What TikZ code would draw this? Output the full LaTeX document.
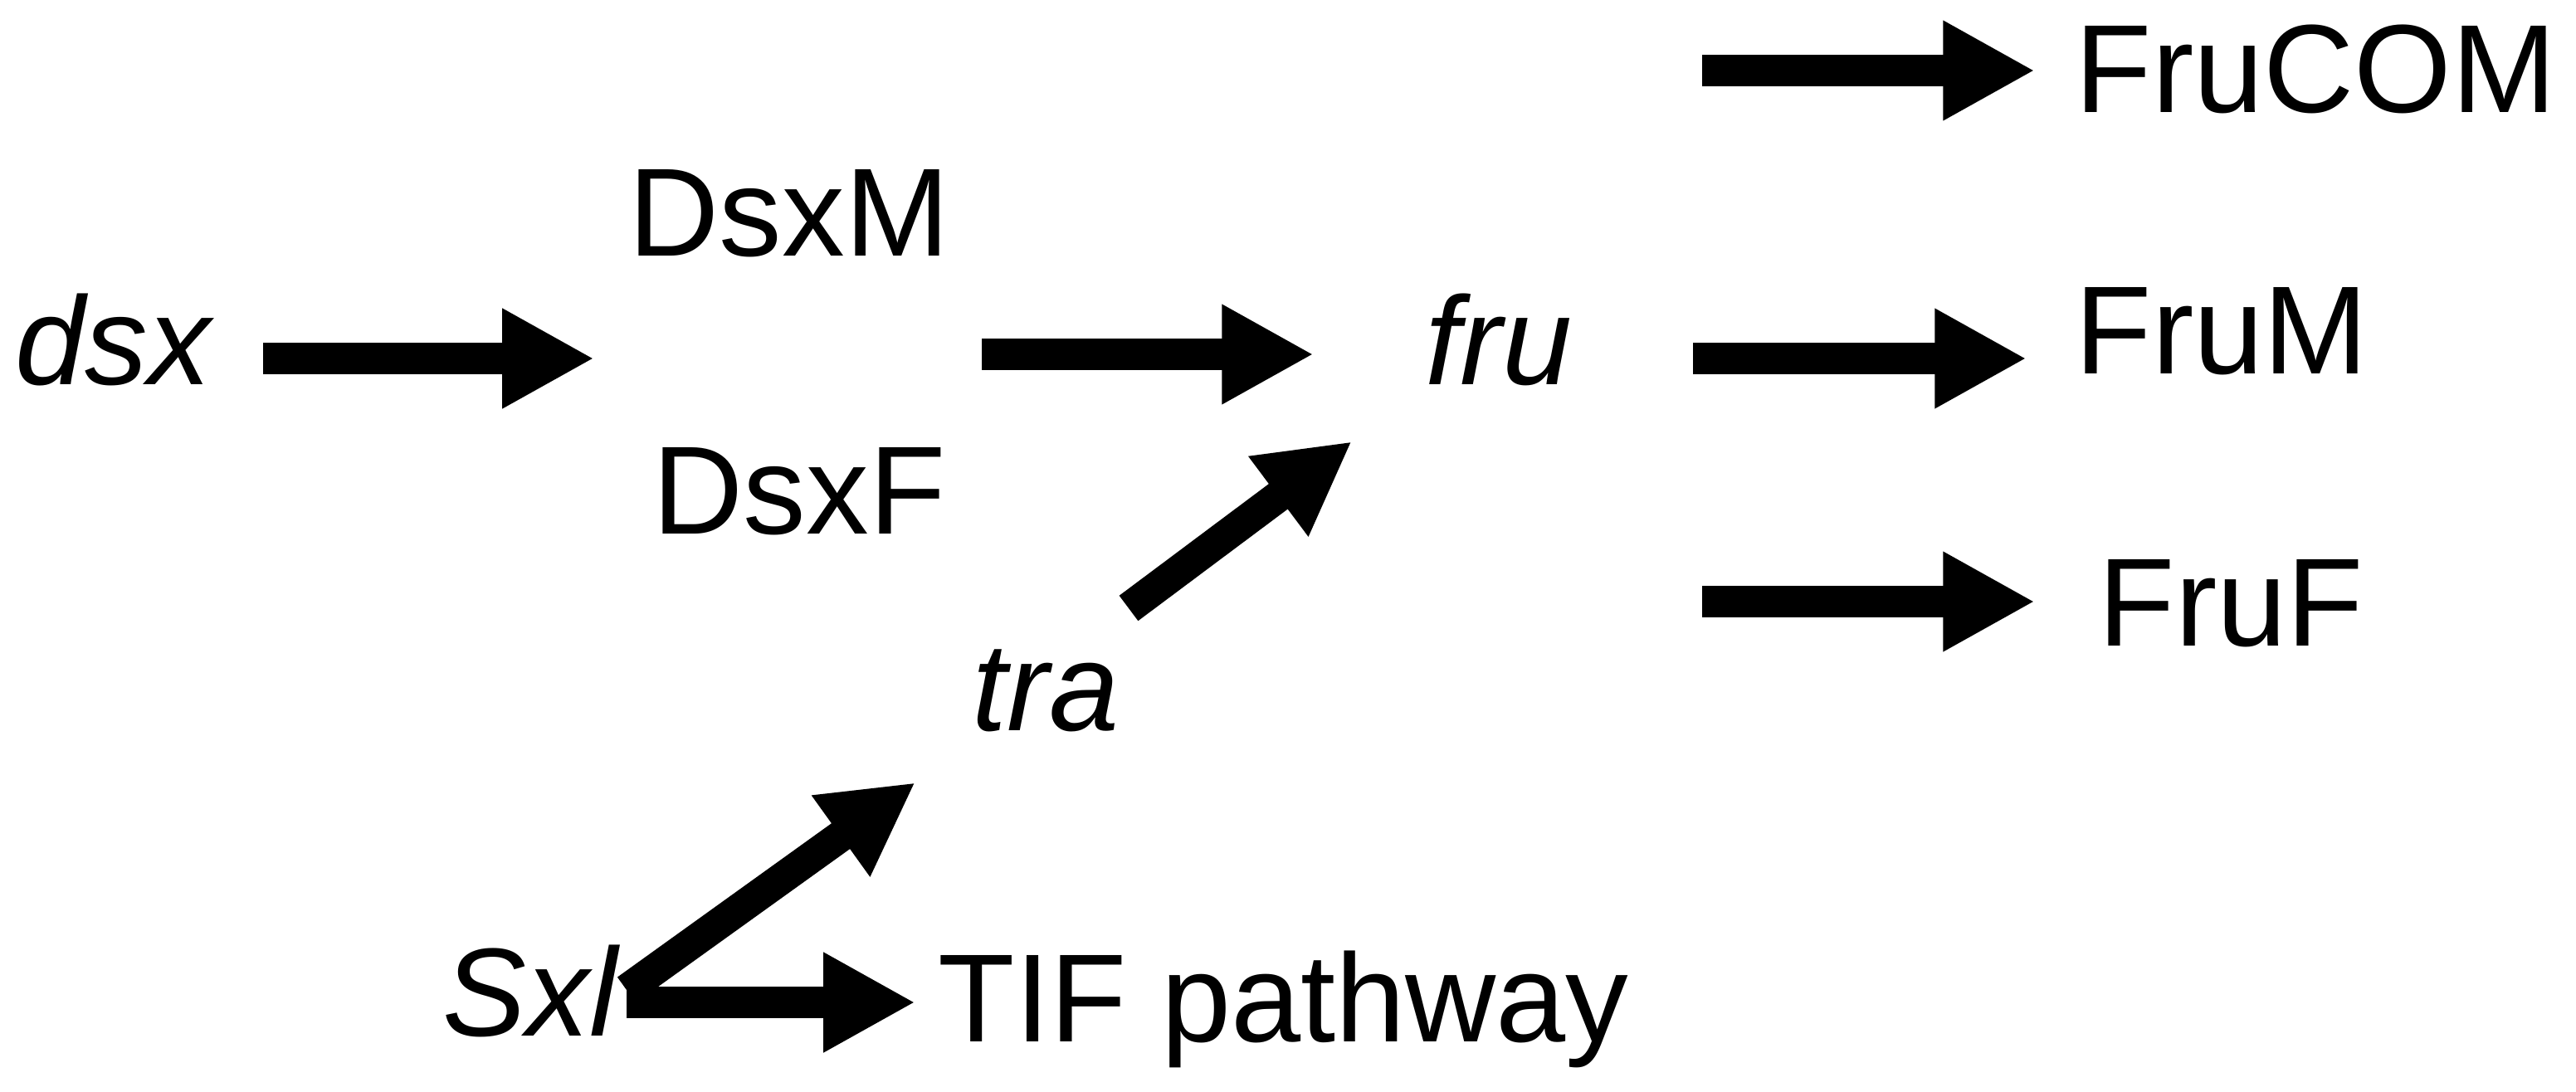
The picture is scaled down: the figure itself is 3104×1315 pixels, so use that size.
\documentclass[tikz,border=0pt]{standalone}
\usepackage{fontspec}
\setmainfont{Liberation Sans}
\usetikzlibrary{arrows.meta}
\begin{document}
\begin{tikzpicture}[x=0.01cm,y=-0.01cm,
  lbl/.style={anchor=base west,inner sep=0pt,font=\fontsize{43}{50}\selectfont},
  gene/.style={lbl,font=\fontsize{43}{50}\selectfont\itshape},
  fat/.style={line width=10.8pt,-{Triangle[length=31.5pt,width=32pt]}}]
\useasboundingbox (0,0) rectangle (3104,1315);
% labels
\node[gene] (dsx) at (18,463) {dsx};
\node[lbl] (dsxm) at (757,308) {DsxM};
\node[lbl] (dsxf) at (786,643) {DsxF};
\node[gene] (fru) at (1717,463) {fru};
\node[gene] (tra) at (1171,880) {tra};
\node[gene] (sxl) at (533,1248) {Sxl};
\node[lbl] (tif) at (1130,1255) {TIF pathway};
\node[lbl] (frucom) at (2500,135) {FruCOM};
\node[lbl] (frum) at (2500,450) {FruM};
\node[lbl] (fruf) at (2528,778) {FruF};
% connector end points
\coordinate (a1s) at (317,432);  \coordinate (a1e) at (716,432);
\coordinate (a2s) at (1183,427); \coordinate (a2e) at (1583,427);
\coordinate (a3s) at (1360,733); \coordinate (a3e) at (1629,532);
\coordinate (a4s) at (755,1193); \coordinate (a4e) at (1103,943);
\coordinate (a5s) at (755,1208); \coordinate (a5e) at (1103,1208);
\coordinate (a6s) at (2051,85);  \coordinate (a6e) at (2452,85);
\coordinate (a7s) at (2040,432); \coordinate (a7e) at (2442,432);
\coordinate (a8s) at (2051,725); \coordinate (a8e) at (2452,725);
% connectors
\draw[fat] (a1s) -- (a1e);
\draw[fat] (a2s) -- (a2e);
\draw[fat] (a3s) -- (a3e);
\draw[fat] (a4s) -- (a4e);
\draw[fat] (a5s) -- (a5e);
\draw[fat] (a6s) -- (a6e);
\draw[fat] (a7s) -- (a7e);
\draw[fat] (a8s) -- (a8e);
\end{tikzpicture}
\end{document}
